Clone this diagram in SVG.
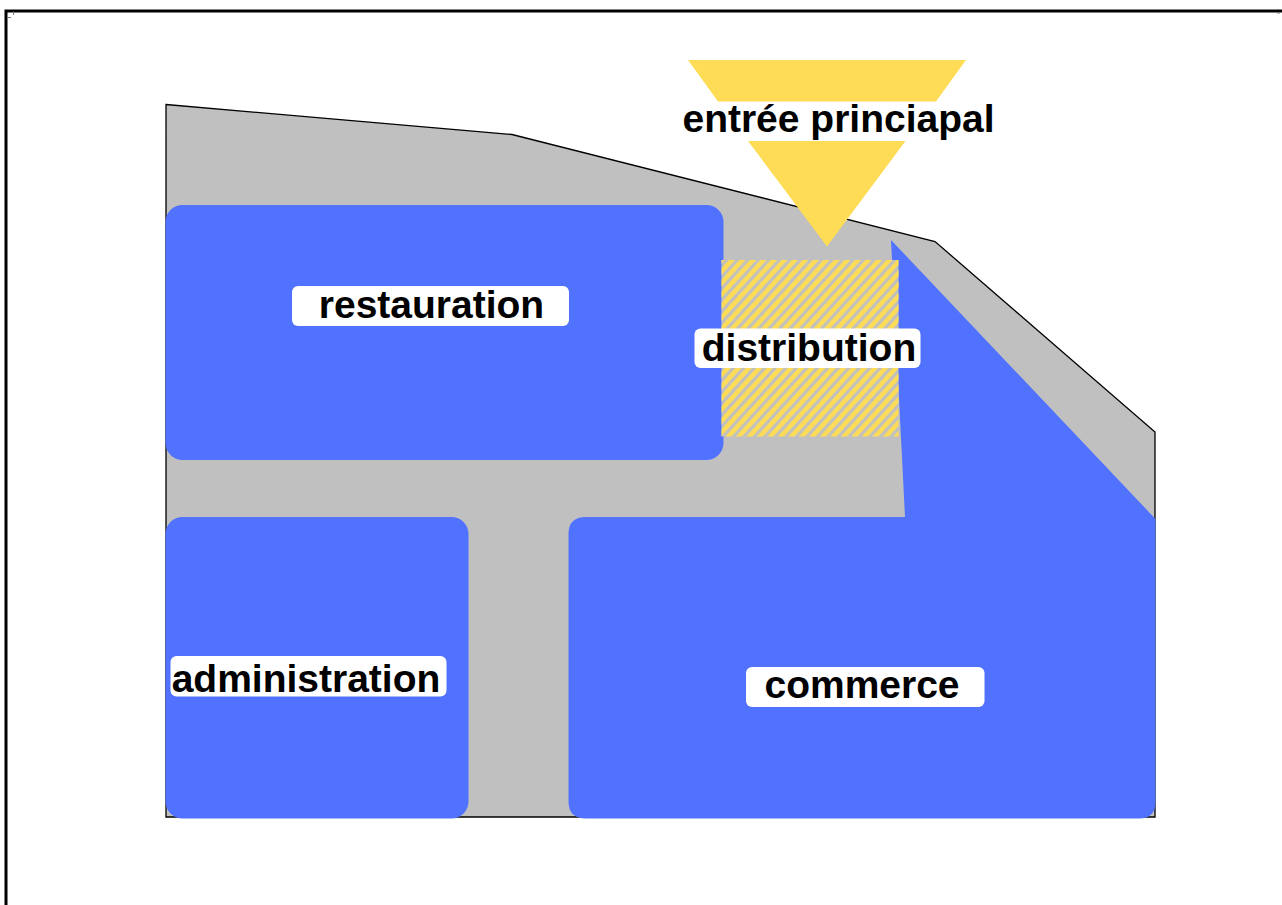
<svg xmlns="http://www.w3.org/2000/svg" width="1282" height="905" viewBox="0 0 1282 905">
<style>
.zone{fill:#5072ff}
.arrow{fill:#ffdc55}
.lab{fill:#fff}
text{font-family:"Liberation Sans",Arial,sans-serif;font-weight:700;font-size:39px;fill:#000;text-anchor:middle}
.tick{stroke:#777;stroke-width:1;fill:none}
</style>
<defs>
<pattern id="hatch" width="10.500" height="11.500" patternUnits="userSpaceOnUse" patternTransform="translate(721.500 260)">
<path d="M-5.250 5.750L5.250 -5.750M0 11.500L10.500 0M5.250 17.250L15.750 5.750" stroke="#ffdc55" stroke-width="4.600"/>
</pattern>
</defs>
<rect width="1282" height="905" fill="#fff"/>
<path d="M6 905V11H1282" fill="none" stroke="#000" stroke-width="3"/>
<path class="tick" d="M7 17.500H11M13.500 11.500V15M1277 13H1280"/>
<g id="site"><path d="M166 104.500L512 134.500L935 241.500L1155 432V817H166Z" fill="#c0c0c0" stroke="#000" stroke-width="1.300"/></g>
<g id="restauration">
<rect class="zone" x="165.500" y="205" width="558" height="255" rx="17"/>
<rect class="lab" x="292" y="286" width="277" height="40" rx="6"/>
<text x="431.500" y="318">restauration</text>
</g>
<g id="administration">
<rect class="zone" x="165.500" y="517" width="303" height="301.500" rx="17"/>
<rect class="lab" x="170.500" y="656" width="276" height="40.500" rx="6"/>
<text x="306" y="692">administration</text>
</g>
<g id="commerce">
<path class="zone" d="M891 240L1155.500 519V802Q1155.500 818.500 1139 818.500H586Q568.500 818.500 568.500 801.500V534Q568.500 517 586 517H905Z"/>
<rect class="lab" x="746" y="667" width="238.500" height="40" rx="6"/>
<text x="862" y="698">commerce</text>
</g>
<g id="distribution">
<rect x="721.500" y="260" width="177" height="176.500" fill="#c0c0c0"/>
<rect x="721.500" y="260" width="177" height="176.500" fill="url(#hatch)"/>
<rect class="lab" x="694.500" y="328.500" width="226" height="39.500" rx="6"/>
<text x="809" y="361">distribution</text>
</g>
<g id="entree">
<path class="arrow" d="M688 60H966L936 101.500H718Z"/>
<path class="arrow" d="M748 141H905.500L827 246.500Z"/>
<text x="838.500" y="132">entrée princiapal</text>
</g>
</svg>
